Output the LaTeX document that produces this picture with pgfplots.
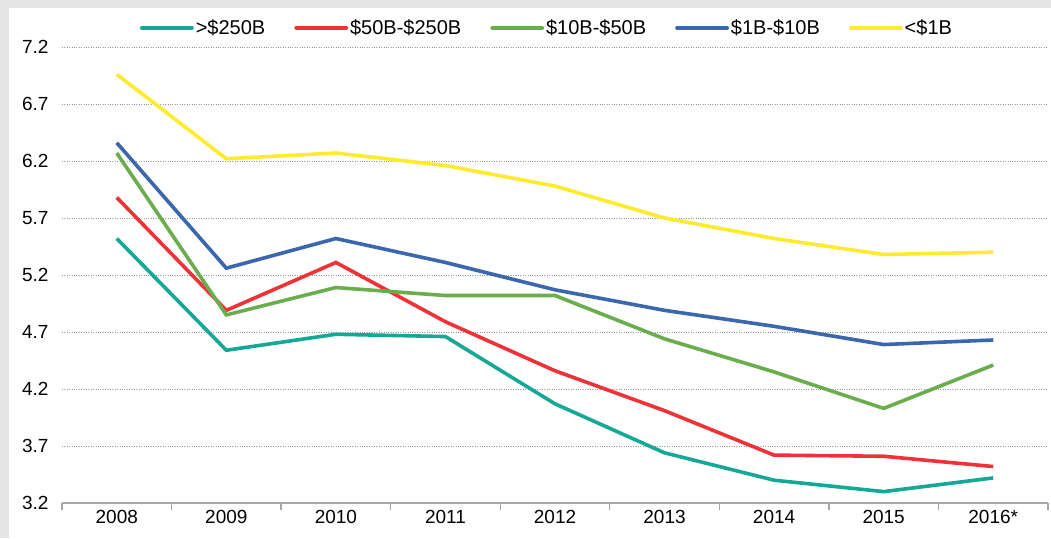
\documentclass[border=0pt]{standalone}
\usepackage{fontspec}
\setmainfont{Liberation Sans}
\usepackage{pgfplots}
\pgfplotsset{compat=1.18}
\definecolor{bggray}{HTML}{E4E5E4}
\definecolor{cTeal}{HTML}{15A896}
\definecolor{cRed}{HTML}{EE3338}
\definecolor{cGreen}{HTML}{6AAD4C}
\definecolor{cBlue}{HTML}{3A67AE}
\definecolor{cYellow}{HTML}{FFEB2E}
\definecolor{axgray}{HTML}{A6A6A6}
\begin{document}
\begin{tikzpicture}
\fill[bggray] (0pt,0pt) rectangle (1051pt,-538pt);
\fill[white] (9pt,-8pt) rectangle (1051pt,-538pt);
\begin{axis}[
  at={(62pt,-503pt)}, anchor=south west,
  scale only axis, width=986pt, height=456pt,
  xmin=-0.5, xmax=8.5, ymin=3.2, ymax=7.2,
  separate axis lines,
  axis x line*=bottom, axis y line*=left,
  x axis line style={axgray, line width=1.4pt},
  y axis line style={draw=none},
  xtick={0,1,2,3,4,5,6,7,8},
  xticklabels={2008,2009,2010,2011,2012,2013,2014,2015,2016*},
  minor xtick={-0.5,0.5,1.5,2.5,3.5,4.5,5.5,6.5,7.5,8.5},
  major x tick style={draw=none},
  minor x tick style={axgray, line width=1.4pt},
  tick align=outside,
  minor tick length=7pt,
  major tick length=0pt,
  ytick={3.2,3.7,4.2,4.7,5.2,5.7,6.2,6.7,7.2},
  ytick style={draw=none},
  ymajorgrids,
  grid style={dotted, black!40, line width=0.5pt},
  tick label style={font=\fontsize{19}{22}\selectfont},
  yticklabel style={/pgf/number format/fixed, /pgf/number format/fixed zerofill, /pgf/number format/precision=1, /pgf/number format/assume math mode=true},
  yticklabel style={xshift=-10pt},
  xticklabel style={yshift=-4pt},
  legend columns=5,
  legend style={at={(0.5,1)}, anchor=south, yshift=7pt, xshift=-8pt, draw=none, fill=none,
    font=\fontsize{20}{23}\selectfont,
    /tikz/every even column/.append style={column sep=27pt},
    /tikz/every odd column/.append style={column sep=0pt}},
  legend image code/.code={\draw[#1, line width=3.8pt, line cap=round] (0pt,0pt) -- (50pt,0pt);},
  every axis plot/.append style={line width=3.6pt, no markers},
]
\addplot[cTeal] coordinates {(0,5.52) (1,4.54) (2,4.68) (3,4.66) (4,4.07) (5,3.64) (6,3.40) (7,3.30) (8,3.42)};
\addlegendentry{>\$250B}
\addplot[cRed] coordinates {(0,5.88) (1,4.89) (2,5.31) (3,4.79) (4,4.36) (5,4.01) (6,3.62) (7,3.61) (8,3.52)};
\addlegendentry{\$50B-\$250B}
\addplot[cGreen] coordinates {(0,6.27) (1,4.85) (2,5.09) (3,5.02) (4,5.02) (5,4.64) (6,4.35) (7,4.03) (8,4.41)};
\addlegendentry{\$10B-\$50B}
\addplot[cBlue] coordinates {(0,6.36) (1,5.26) (2,5.52) (3,5.31) (4,5.07) (5,4.89) (6,4.75) (7,4.59) (8,4.63)};
\addlegendentry{\$1B-\$10B}
\addplot[cYellow] coordinates {(0,6.96) (1,6.22) (2,6.27) (3,6.16) (4,5.98) (5,5.70) (6,5.52) (7,5.38) (8,5.40)};
\addlegendentry{<\$1B}
\end{axis}
\pgfresetboundingbox
\useasboundingbox (0pt,0pt) rectangle (1051pt,-538pt);
\end{tikzpicture}
\end{document}
